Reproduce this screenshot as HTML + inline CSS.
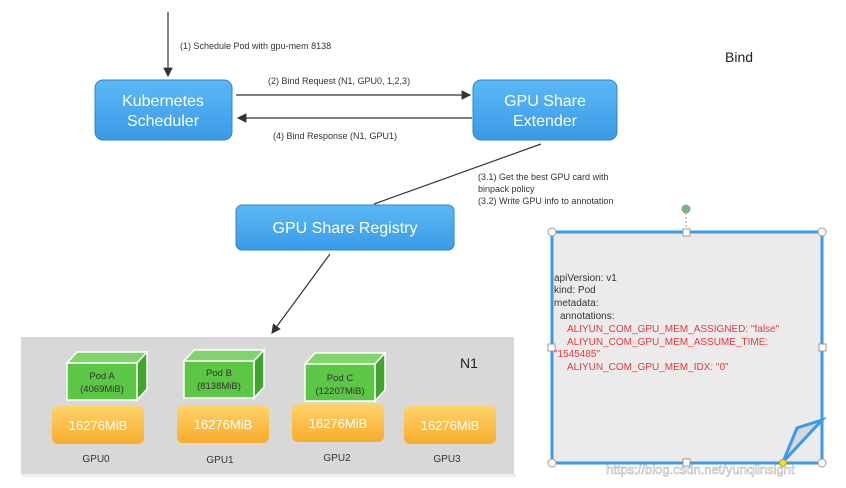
<html><head><style>body{margin:0;background:#fff}</style></head><body>
<svg width="846" height="488" xmlns="http://www.w3.org/2000/svg" font-family="Liberation Sans, sans-serif">
<defs>
<marker id="a" markerWidth="8" markerHeight="8" refX="7" refY="4" orient="auto"><path d="M0,0 L8,4 L0,8 z" fill="#333"/></marker>
<linearGradient id="b" x1="0" y1="0" x2="0" y2="1"><stop offset="0" stop-color="#5cb8f5"/><stop offset="1" stop-color="#3a9ae6"/></linearGradient>
<linearGradient id="o" x1="0" y1="0" x2="0" y2="1"><stop offset="0" stop-color="#ffd36a"/><stop offset="1" stop-color="#f7ac2c"/></linearGradient>
</defs>
<line x1="168" y1="12" x2="168" y2="76" stroke="#333" stroke-width="1.2" marker-end="url(#a)"/>
<text x="180" y="49" font-size="9" fill="#333">(1) Schedule Pod with gpu-mem 8138</text>
<rect x="95" y="80" width="137" height="60" rx="8" fill="url(#b)" stroke="#2f86cc"/>
<text x="163" y="106" font-size="16" fill="#fff" text-anchor="middle">Kubernetes</text>
<text x="163" y="126" font-size="16" fill="#fff" text-anchor="middle">Scheduler</text>
<rect x="473" y="80" width="144" height="60" rx="8" fill="url(#b)" stroke="#2f86cc"/>
<text x="545" y="106" font-size="16" fill="#fff" text-anchor="middle">GPU Share</text>
<text x="545" y="126" font-size="16" fill="#fff" text-anchor="middle">Extender</text>
<line x1="236" y1="95" x2="470" y2="95" stroke="#333" stroke-width="1.2" marker-end="url(#a)"/>
<text x="268" y="84" font-size="9" fill="#333">(2) Bind Request (N1, GPU0, 1,2,3)</text>
<line x1="472" y1="118" x2="238" y2="118" stroke="#333" stroke-width="1.2" marker-end="url(#a)"/>
<text x="273" y="139" font-size="9" fill="#333">(4) Bind Response (N1, GPU1)</text>
<text x="725" y="62" font-size="14" fill="#222">Bind</text>
<line x1="541" y1="144" x2="374" y2="204" stroke="#333" stroke-width="1.2"/>
<text x="478" y="180" font-size="9" fill="#333">(3.1) Get the best GPU card with</text>
<text x="478" y="192" font-size="9" fill="#333">binpack policy</text>
<text x="478" y="204" font-size="9" fill="#333">(3.2) Write GPU info to annotation</text>
<rect x="236" y="205" width="218" height="45" rx="6" fill="url(#b)" stroke="#2f86cc"/>
<text x="345" y="233" font-size="16" fill="#fff" text-anchor="middle">GPU Share Registry</text>
<line x1="330" y1="254" x2="272" y2="333" stroke="#333" stroke-width="1.2" marker-end="url(#a)"/>
<rect x="20" y="336" width="495" height="139" fill="#d8d8d8" stroke="#fff" stroke-width="2"/>
<rect x="22" y="474" width="494" height="3" fill="#eee"/>
<text x="460" y="368" font-size="14" fill="#222">N1</text>
<g font-size="9.5" fill="#333" text-anchor="middle">
<g transform="translate(67,352)"><path d="M0,11 L10,0 L80,0 L70,11 z" fill="#7fd46a" stroke="#fff" stroke-width="1.5"/><path d="M70,11 L80,0 L80,37 L70,48 z" fill="#3fa52e" stroke="#fff" stroke-width="1.5"/><rect x="0" y="11" width="70" height="37" fill="#5cc645" stroke="#fff" stroke-width="1.5"/><text x="35" y="27">Pod A</text><text x="35" y="40">(4069MiB)</text></g>
<g transform="translate(184,350)"><path d="M0,11 L10,0 L80,0 L70,11 z" fill="#7fd46a" stroke="#fff" stroke-width="1.5"/><path d="M70,11 L80,0 L80,37 L70,48 z" fill="#3fa52e" stroke="#fff" stroke-width="1.5"/><rect x="0" y="11" width="70" height="37" fill="#5cc645" stroke="#fff" stroke-width="1.5"/><text x="35" y="26">Pod B</text><text x="35" y="39">(8138MiB)</text></g>
<g transform="translate(305,353)"><path d="M0,11 L10,0 L80,0 L70,11 z" fill="#7fd46a" stroke="#fff" stroke-width="1.5"/><path d="M70,11 L80,0 L80,37 L70,48 z" fill="#3fa52e" stroke="#fff" stroke-width="1.5"/><rect x="0" y="11" width="70" height="37" fill="#5cc645" stroke="#fff" stroke-width="1.5"/><text x="35" y="28">Pod C</text><text x="35" y="41">(12207MiB)</text></g>
</g>
<g font-size="13" fill="#fff" text-anchor="middle">
<rect x="52" y="406" width="92" height="38" rx="6" fill="url(#o)"/><text x="98" y="430">16276MiB</text>
<rect x="177" y="405" width="92" height="38" rx="6" fill="url(#o)"/><text x="223" y="429">16276MiB</text>
<rect x="292" y="404" width="92" height="38" rx="6" fill="url(#o)"/><text x="338" y="428">16276MiB</text>
<rect x="404" y="406" width="92" height="38" rx="6" fill="url(#o)"/><text x="450" y="430">16276MiB</text>
</g>
<g font-size="10" fill="#333" text-anchor="middle"><text x="96" y="462">GPU0</text><text x="220" y="463">GPU1</text><text x="337" y="461">GPU2</text><text x="447" y="462">GPU3</text></g>
<rect x="552" y="232" width="270" height="231" fill="#ebebeb" stroke="#3a9ae6" stroke-width="3"/>
<line x1="686" y1="213" x2="686" y2="232" stroke="#999" stroke-dasharray="2,2"/>
<circle cx="686" cy="209" r="4" fill="#6cbf7a" stroke="#999"/>
<path d="M783,462 L797,428 L822,420 z" fill="#d8d8d8" stroke="#3a9ae6" stroke-width="3"/>
<g fill="#fff" stroke="#999"><circle cx="552" cy="232" r="4"/><circle cx="822" cy="232" r="4"/><circle cx="552" cy="463" r="4"/><circle cx="822" cy="463" r="4"/>
<rect x="683" y="229" width="7" height="7"/><rect x="548" y="344" width="7" height="7"/><rect x="819" y="344" width="7" height="7"/><rect x="683" y="459" width="7" height="7"/></g>
<circle cx="783" cy="463" r="3.5" fill="#f5e030" stroke="#bba000"/>
<g font-size="10"><text x="554" y="281" fill="#333">apiVersion: v1</text><text x="554" y="293" fill="#333">kind: Pod</text><text x="554" y="306" fill="#333">metadata:</text><text x="560" y="319" fill="#333">annotations:</text>
<g fill="#e8383b"><text x="567" y="332">ALIYUN_COM_GPU_MEM_ASSIGNED:   "false"</text><text x="567" y="345">ALIYUN_COM_GPU_MEM_ASSUME_TIME:</text><text x="554" y="357">"1545485"</text><text x="567" y="370">ALIYUN_COM_GPU_MEM_IDX: "0"</text></g></g>
<text x="606" y="474" font-size="13" fill="#fff" stroke="#aaa" stroke-width="0.5">https://blog.csdn.net/yunqiinsight</text>
</svg>
</body></html>
